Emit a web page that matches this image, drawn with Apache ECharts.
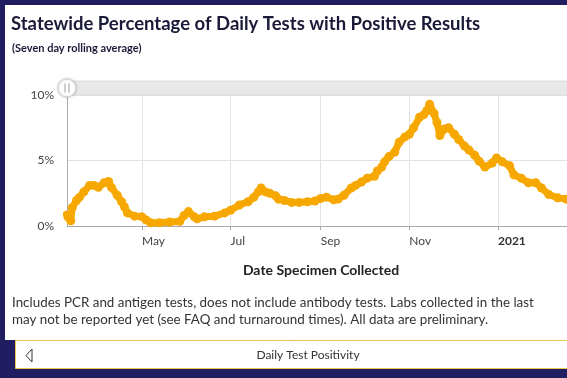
<!DOCTYPE html>
<html><head><meta charset="utf-8">
<script src="https://cdn.jsdelivr.net/npm/echarts@6/dist/echarts.min.js"></script>
<style>html,body{margin:0;padding:0;background:#201e60;overflow:hidden}#c{width:567px;height:378px;}</style>
</head><body><div id="c"></div>
<script>
const chartTitle = 'Statewide Percentage of Daily Tests with Positive Results';
const chartSubtitle = '(Seven day rolling average)';
const xAxisTitle = 'Date Specimen Collected';
const noteLine1 = 'Includes PCR and antigen tests, does not include antibody tests. Labs collected in the last';
const noteLine2 = 'may not be reported yet (see FAQ and turnaround times). All data are preliminary.';
const tabLabel = 'Daily Test Positivity';
const monthLabels = ['Jan','Feb','Mar','Apr','May','Jun','Jul','Aug','Sep','Oct','Nov','Dec'];
const yTicks = [0, 5, 10];

const dates = ['2020-03-10','2020-03-11','2020-03-13','2020-03-14','2020-03-17','2020-03-19','2020-03-22','2020-03-26','2020-03-29','2020-04-01',
'2020-04-05','2020-04-08','2020-04-10','2020-04-14','2020-04-17','2020-04-19','2020-04-21','2020-04-26','2020-05-01','2020-05-04',
'2020-05-07','2020-05-13','2020-05-20','2020-05-27','2020-05-30','2020-06-02','2020-06-06','2020-06-08','2020-06-13','2020-06-20',
'2020-06-27','2020-07-01','2020-07-07','2020-07-13','2020-07-17','2020-07-20','2020-07-22','2020-07-25','2020-07-28','2020-08-01',
'2020-08-03','2020-08-07','2020-08-12','2020-08-17','2020-08-23','2020-08-28','2020-09-01','2020-09-05','2020-09-10','2020-09-13',
'2020-09-17','2020-09-22','2020-09-25','2020-09-29','2020-10-03','2020-10-08','2020-10-10','2020-10-13','2020-10-15','2020-10-18',
'2020-10-22','2020-10-25','2020-10-29','2020-11-01','2020-11-04','2020-11-08','2020-11-11','2020-11-13','2020-11-15','2020-11-18',
'2020-11-20','2020-11-22','2020-11-25','2020-11-28','2020-12-02','2020-12-05','2020-12-09','2020-12-12','2020-12-16','2020-12-19',
'2020-12-23','2020-12-28','2020-12-31','2021-01-04','2021-01-09','2021-01-12','2021-01-17','2021-01-22','2021-01-27','2021-01-31',
'2021-02-05','2021-02-11','2021-02-17','2021-02-20'];
const positivity = [0.9,0.7,0.4,1.4,1.95,2.2,2.6,3.1,3.1,2.95,
3.3,3.4,2.95,2.35,1.85,1.45,1.0,0.75,0.7,0.45,
0.25,0.25,0.3,0.35,0.8,1.1,0.7,0.55,0.7,0.75,
1.0,1.2,1.6,1.85,2.2,2.6,2.9,2.6,2.5,2.3,
2.05,1.95,1.8,1.8,1.85,1.9,2.1,2.2,2.0,2.05,
2.35,2.9,3.1,3.35,3.65,3.8,4.2,4.5,4.9,5.3,
5.65,6.4,6.8,7.0,7.5,8.3,8.5,8.8,9.3,8.6,
7.9,6.9,7.4,7.5,7.0,6.6,6.1,5.8,5.4,4.95,
4.5,4.8,5.2,4.9,4.6,3.9,3.65,3.3,3.3,2.9,
2.4,2.15,2.05,2.0];

const navy = '#201e60';
const orange = '#F7A800';
const DAY = 86400000;
const chart = echarts.init(document.getElementById('c'));
chart.setOption({
  backgroundColor: navy,
  animation: false,
  textStyle: { fontFamily: 'Lato' },
  title: [
    { text: chartTitle, left: 6, top: 10, textStyle: { fontSize: 18.5, fontWeight: 'bold', color: '#1a1a38', fontFamily: 'Lato' } },
    { text: chartSubtitle, left: 7, top: 38, textStyle: { fontSize: 11, fontWeight: 'bold', color: '#1a1a38', fontFamily: 'Lato' } },
    { text: noteLine1, left: 7, top: 291, textStyle: { fontSize: 13.4, fontWeight: 'normal', color: '#333', fontFamily: 'Lato' } },
    { text: noteLine2, left: 7, top: 308, textStyle: { fontSize: 13.4, fontWeight: 'normal', color: '#333', fontFamily: 'Lato' } }
  ],
  graphic: [
    { type: 'rect', z: -10, shape: { x: 5, y: 5, width: 562, height: 335 }, style: { fill: '#ffffff' } },
    { type: 'rect', z: -10, shape: { x: 15.5, y: 340.5, width: 560, height: 28 }, style: { fill: '#ffffff', stroke: '#e9c84a', lineWidth: 1 } },
    { type: 'polygon', z: 10, shape: { points: [[32, 349], [26, 355.5], [32, 362]] }, style: { fill: 'none', stroke: '#333', lineWidth: 1 } },
    { type: 'text', z: 10, style: { text: tabLabel, x: 308, y: 355, align: 'center', verticalAlign: 'middle', font: '12px Lato', fill: '#333' } },
    { type: 'rect', z: 10, shape: { x: 67, y: 81, width: 500, height: 14 }, style: { fill: '#e8e8e8', stroke: '#dcdcdc', lineWidth: 1 } },
    { type: 'circle', z: 11, shape: { cx: 67, cy: 88, r: 9 }, style: { fill: '#ffffff', stroke: '#d0d0d0', lineWidth: 1, shadowBlur: 3, shadowColor: 'rgba(0,0,0,0.2)' } },
    { type: 'line', z: 12, shape: { x1: 65, y1: 83.5, x2: 65, y2: 92.5 }, style: { stroke: '#999', lineWidth: 1 } },
    { type: 'line', z: 12, shape: { x1: 69, y1: 83.5, x2: 69, y2: 92.5 }, style: { stroke: '#999', lineWidth: 1 } }
  ],
  grid: { left: 67, right: 0, top: 95, bottom: 152 },
  xAxis: {
    type: 'time',
    min: new Date(2020, 2, 10, 10).getTime(),
    max: new Date(2021, 1, 17, 12).getTime(),
    splitNumber: 4,
    minInterval: 59 * DAY,
    name: xAxisTitle,
    nameLocation: 'middle',
    nameGap: 37,
    nameTextStyle: { fontSize: 14, fontWeight: 'bold', color: '#222', fontFamily: 'Lato', padding: [0, 0, 0, 8] },
    axisLine: { lineStyle: { color: '#aaa' } },
    axisTick: { show: true, length: 4, lineStyle: { color: '#aaa' } },
    splitLine: { show: true, lineStyle: { color: '#e2e2e2' } },
    axisLabel: {
      color: '#444', fontSize: 12, align: 'left', margin: 9, hideOverlap: false,
      formatter: function (val) {
        const d = new Date(val);
        const m = d.getMonth();
        if (m === 0) return '{b|' + d.getFullYear() + '}';
        return monthLabels[m];
      },
      rich: { b: { fontWeight: 'bold', color: '#333', fontSize: 12 } }
    }
  },
  yAxis: {
    type: 'value', min: yTicks[0], max: yTicks[yTicks.length - 1], interval: yTicks[1] - yTicks[0],
    axisLine: { show: true, lineStyle: { color: '#aaa' } },
    axisTick: { show: false },
    splitLine: { lineStyle: { color: '#e2e2e2' } },
    axisLabel: { formatter: '{value}%', color: '#444', fontSize: 12, margin: 13 }
  },
  series: [{
    type: 'line',
    data: dates.map((d, i) => [d, positivity[i]]),
    showSymbol: true, symbol: 'circle', symbolSize: 9,
    itemStyle: { color: orange },
    lineStyle: { color: orange, width: 7, cap: 'round', join: 'round' },
    clip: true, z: 5
  }]
});
</script></body></html>
